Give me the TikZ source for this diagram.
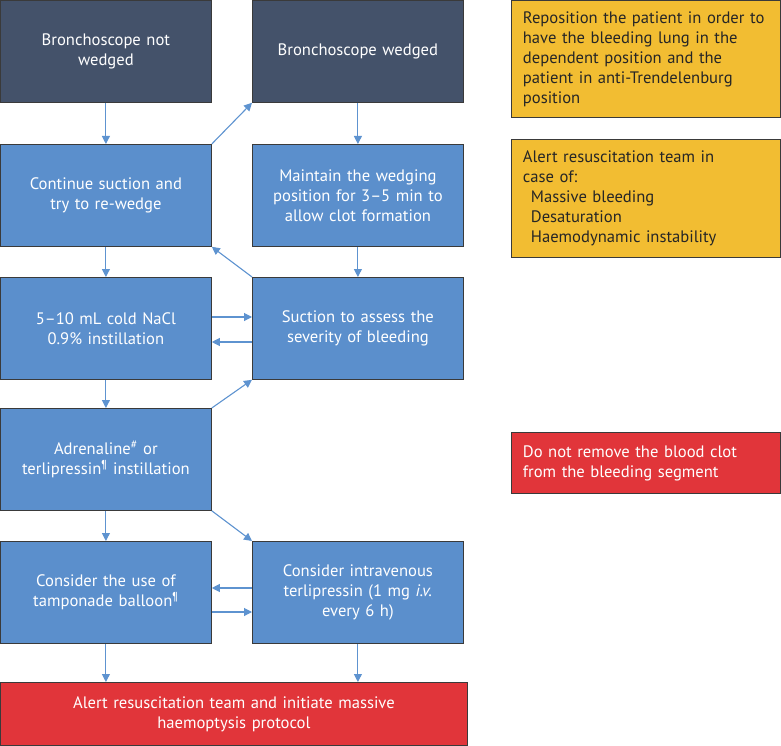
\documentclass[tikz,border=0pt]{standalone}
\usepackage{fontspec}
\setmainfont{PT Sans}
\usetikzlibrary{arrows.meta}
\definecolor{navy}{HTML}{44526A}
\definecolor{bblue}{HTML}{5B8FCC}
\definecolor{ablue}{HTML}{5E93D0}
\definecolor{yel}{HTML}{F2BD32}
\definecolor{rd}{HTML}{E1353A}
\definecolor{edge}{HTML}{3A3A3A}
\tikzset{
  base/.style={draw=edge, line width=0.8pt, anchor=north west, inner sep=0pt, font=\fontsize{16.6}{20}\selectfont},
  dark/.style={base, fill=navy, text=white, align=center, minimum width=211pt, minimum height=102pt, text width=200pt},
  blu/.style={base, fill=bblue, text=white, align=center, minimum width=211pt, minimum height=102pt, text width=200pt},
  yl/.style={base, fill=yel, text=black!85, align=left, minimum width=269pt, text width=246pt},
  redb/.style={base, fill=rd, text=white},
  arr/.style={draw=ablue, line width=1.1pt, -{Triangle[length=8pt,width=8pt]}}
}
\begin{document}
\begin{tikzpicture}[x=1pt,y=-1pt]
\useasboundingbox (0,0) rectangle (781,746);
\node[dark] (nw) at (0,0) {Bronchoscope not\\wedged};
\node[dark] (w) at (252,0) {Bronchoscope wedged};
\node[blu] (cs) at (0,144) {Continue suction and\\try to re-wedge};
\node[blu] (mt) at (252,144) {Maintain the wedging\\position for 3–5 min to\\allow clot formation};
\node[blu] (na) at (0,277) {5–10 mL cold NaCl\\0.9\% instillation};
\node[blu] (sa) at (252,277) {Suction to assess the\\severity of bleeding};
\node[blu] (ad) at (0,408) {Adrenaline\textsuperscript{\#} or\\terlipressin\textsuperscript{¶} instillation};
\node[blu] (tb) at (0,541) {Consider the use of\\tamponade balloon\textsuperscript{¶}};
\node[blu] (iv) at (252,541) {Consider intravenous\\terlipressin (1 mg \textit{i.v.}\\every 6 h)};
\node[redb, align=center, minimum width=467pt, minimum height=63pt, text width=440pt] (al) at (0,682) {Alert resuscitation team and initiate massive\\haemoptysis protocol};
\node[yl, minimum height=117pt] (rp) at (511,0) {Reposition the patient in order to\\have the bleeding lung in the\\dependent position and the\\patient in anti-Trendelenburg\\position};
\node[yl, minimum height=118pt] (ar) at (511,139) {Alert resuscitation team in\\case of:\\\hspace*{8pt}Massive bleeding\\\hspace*{8pt}Desaturation\\\hspace*{8pt}Haemodynamic instability};
\node[redb, align=left, minimum width=269pt, minimum height=61pt, text width=246pt] (dn) at (511,432) {Do not remove the blood clot\\from the bleeding segment};
% arrows
\draw[arr] (nw.south) -- (cs.north);
\draw[arr] (cs.north east) -- (w.south west);
\draw[arr] (w.south) -- (mt.north);
\draw[arr] (mt.south) -- (sa.north);
\draw[arr] (sa.north west) -- (cs.south east);
\draw[arr] (cs.south) -- (na.north);
\draw[arr] ([yshift=-40pt]na.north east) -- ([yshift=-40pt]sa.north west);
\draw[arr] ([yshift=-65pt]sa.north west) -- ([yshift=-65pt]na.north east);
\draw[arr] (na.south) -- (ad.north);
\draw[arr] (ad.north east) -- (sa.south west);
\draw[arr] (ad.south) -- (tb.north);
\draw[arr] (ad.south east) -- (iv.north west);
\draw[arr] ([yshift=-47pt]iv.north west) -- ([yshift=-47pt]tb.north east);
\draw[arr] ([yshift=-71pt]tb.north east) -- ([yshift=-71pt]iv.north west);
\draw[arr] (tb.south) -- (tb.south |- al.north);
\draw[arr] (iv.south) -- (iv.south |- al.north);
\end{tikzpicture}
\end{document}
